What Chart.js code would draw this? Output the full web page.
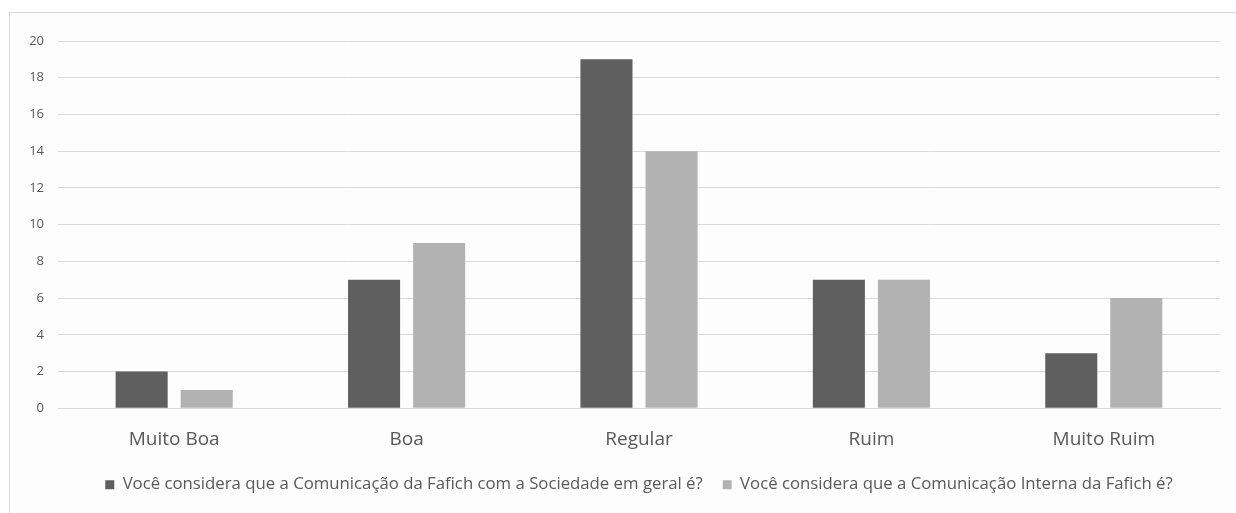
<!DOCTYPE html>
<html lang="pt">
<head>
<meta charset="UTF-8">
<title>Comunicação da Fafich</title>
<script src="https://cdn.jsdelivr.net/npm/chart.js"></script>
<style>
  html, body { margin: 0; padding: 0; background: #fff; }
  .frame { position: absolute; left: 9px; top: 12px; width: 1240px; height: 520px;
           border-left: 1px solid #d9d9d9; border-top: 1px solid #d9d9d9; background: #fdfdfd; }
  .wrap { position: absolute; left: 0; top: 0; width: 1236px; height: 513px; }
</style>
</head>
<body>
<div class="frame"></div>
<div class="wrap"><canvas id="chart"></canvas></div>
<script>
  // data
  const categories = ['Muito Boa', 'Boa', 'Regular', 'Ruim', 'Muito Ruim'];
  const sociedade = [2, 7, 19, 7, 3];
  const interna = [1, 9, 14, 7, 6];
  const seriesNames = [
    'Você considera que a Comunicação da Fafich com a Sociedade em geral é?',
    'Você considera que a Comunicação Interna da Fafich é?'
  ];
  const yTicks = [0, 2, 4, 6, 8, 10, 12, 14, 16, 18, 20];

  const fontFamily = '"Open Sans", "Noto Sans", sans-serif';

  new Chart(document.getElementById('chart'), {
    type: 'bar',
    data: {
      labels: categories,
      datasets: [
        { label: seriesNames[0], data: sociedade, backgroundColor: '#5f5f5f',
          categoryPercentage: 0.56, barPercentage: 0.8 },
        { label: seriesNames[1], data: interna, backgroundColor: '#b2b2b2',
          categoryPercentage: 0.56, barPercentage: 0.8 }
      ]
    },
    options: {
      responsive: true,
      maintainAspectRatio: false,
      animation: false,
      layout: { padding: { left: 0, right: 16, top: 41, bottom: 10 } },
      plugins: {
        tooltip: { enabled: false },
        legend: {
          position: 'bottom',
          fullSize: false,
          labels: {
            boxWidth: 9, boxHeight: 9, padding: 20,
            color: '#595959',
            font: { family: fontFamily, size: 16.75 }
          }
        }
      },
      scales: {
        x: {
          grid: { display: false },
          border: { display: true, color: '#d9d9d9', width: 1 },
          ticks: { color: '#595959', padding: 12, font: { family: fontFamily, size: 19 } },
          afterFit: (s) => { s.height = 48; }
        },
        y: {
          min: 0, max: 20,
          afterBuildTicks: (s) => { s.ticks = yTicks.map(v => ({ value: v })); },
          grid: { color: '#d9d9d9', lineWidth: 1, drawTicks: false },
          border: { display: false },
          ticks: { color: '#595959', padding: 14, font: { family: fontFamily, size: 13 } },
          afterFit: (s) => { s.width = 58; }
        }
      }
    }
  });
</script>
</body>
</html>
